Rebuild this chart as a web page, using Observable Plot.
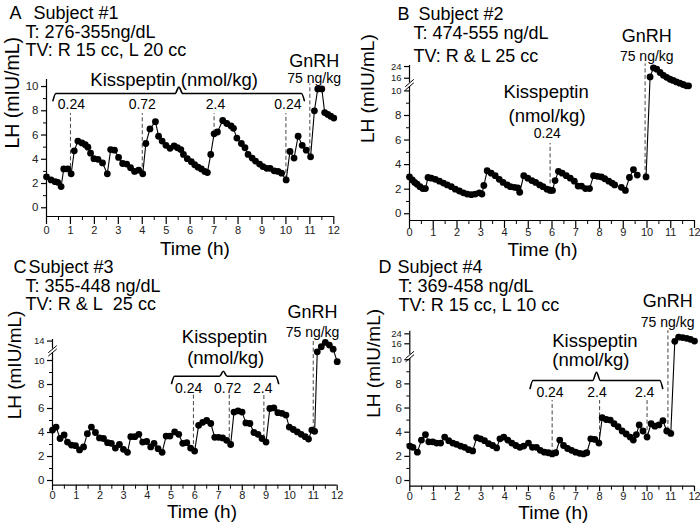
<!DOCTYPE html>
<html><head><meta charset="utf-8">
<script src="https://cdn.jsdelivr.net/npm/d3@7"></script>
<script src="https://cdn.jsdelivr.net/npm/@observablehq/plot@0.6"></script>
<style>
body{margin:0;background:#fff;}
#fig{position:relative;width:700px;height:528px;background:#fff;overflow:hidden;}
.panel{position:absolute;width:350px;height:264px;}
.panel svg{overflow:visible;position:absolute;left:0;top:0;}
</style></head><body><div id="fig"></div>
<script>
// ---------------- data (hours, LH mIU/mL) ----------------
const timeA = [0,0.19,0.36,0.47,0.61,0.72,0.89,1.03,1.16,1.31,1.48,1.62,1.73,1.84,1.98,2.15,2.34,2.54,2.68,2.84,3.01,3.18,3.35,3.51,3.68,3.85,4.02,4.15,4.32,4.55,4.68,4.83,4.99,5.16,5.33,5.47,5.61,5.72,5.88,6.05,6.19,6.33,6.47,6.61,6.72,6.86,7.0,7.14,7.36,7.53,7.71,7.81,7.95,8.14,8.29,8.42,8.59,8.73,8.9,9.04,9.2,9.34,9.51,9.67,9.82,10.01,10.17,10.34,10.51,10.68,10.85,11.03,11.19,11.33,11.5,11.62,11.75,11.87,12.0];
const lhA = [2.55,2.3,2.15,2.1,1.75,3.2,3.2,2.8,4.7,5.5,5.35,5.2,5.0,4.5,4.05,4.0,3.7,2.8,4.8,4.75,4.15,3.65,3.6,3.3,3.0,3.1,2.8,5.3,6.5,7.1,5.9,5.5,5.15,4.9,5.1,4.95,4.8,4.4,4.05,3.8,3.55,3.35,3.2,3.0,2.9,4.4,6.1,6.25,7.2,6.95,6.75,6.55,5.75,5.3,4.95,4.4,4.1,3.85,3.6,3.4,3.25,3.25,3.05,3.0,2.85,2.3,4.65,4.1,5.9,5.15,4.75,4.2,8.0,9.8,9.8,7.85,7.7,7.55,7.4];

const timeB = [0,0.12,0.22,0.32,0.44,0.56,0.67,0.78,0.92,1.09,1.26,1.43,1.59,1.76,1.93,2.1,2.27,2.43,2.6,2.77,2.94,3.05,3.13,3.27,3.44,3.61,3.78,3.94,4.11,4.25,4.42,4.56,4.64,4.81,4.98,5.15,5.31,5.48,5.62,5.79,5.92,6.02,6.13,6.27,6.43,6.6,6.77,6.94,7.1,7.24,7.41,7.58,7.75,7.92,8.08,8.22,8.39,8.53,8.64,8.78,8.92,9.09,9.26,9.43,9.59,9.78,9.96,10.13,10.27,10.41,10.55,10.69,10.83,10.97,11.1,11.24,11.38,11.52,11.66,11.75];
const lhB = [3.0,2.75,2.55,2.4,2.2,2.05,2.05,2.95,2.9,2.8,2.65,2.5,2.35,2.2,2.0,1.85,1.7,1.6,1.55,1.6,1.7,1.6,2.3,3.5,3.3,3.1,2.8,2.55,2.35,2.2,2.15,2.1,1.75,3.1,2.9,2.7,2.55,2.35,2.2,2.0,1.9,1.9,2.7,3.45,3.3,3.1,2.9,2.65,2.25,2.25,2.05,2.05,3.1,3.05,3.0,2.85,2.65,2.5,2.35,null,2.15,1.9,2.95,3.6,3.15,null,3.0,16.9,23.1,22.2,19.9,18.0,16.6,15.3,14.5,13.5,12.6,11.7,10.8,10.8];

const timeC = [0,0.15,0.32,0.49,0.63,0.8,0.97,1.14,1.31,1.47,1.64,1.81,1.98,2.15,2.32,2.48,2.65,2.82,2.99,3.16,3.3,3.47,3.64,3.8,3.97,4.14,4.28,4.45,4.62,4.79,4.95,5.15,5.32,5.49,5.66,5.82,5.99,6.16,6.33,6.5,6.67,6.84,7.0,7.17,7.34,7.51,7.65,7.82,7.99,8.15,8.32,8.49,8.66,8.83,9.0,9.16,9.33,9.5,9.67,9.84,9.98,10.15,10.32,10.48,10.65,10.79,10.93,11.05,11.16,11.33,11.5,11.67,11.83,12.0];
const lhC = [4.2,4.45,3.5,3.8,3.2,2.95,2.9,2.55,2.8,3.9,4.45,4.0,3.55,3.5,3.15,3.1,2.7,3.0,2.6,2.35,3.65,3.65,3.85,3.2,3.25,2.8,3.1,2.65,2.35,3.7,3.7,4.05,3.85,3.1,3.15,2.7,2.45,4.6,4.85,5.0,4.75,3.6,3.6,3.55,3.35,3.0,5.7,5.8,5.7,4.8,4.75,4.0,3.85,3.5,3.2,6.0,6.05,5.65,5.6,5.45,4.45,4.25,4.05,3.85,3.65,3.45,4.2,4.1,10.8,12.3,13.6,12.8,11.6,9.9];

const timeD = [0,0.13,0.32,0.49,0.66,0.8,0.97,1.13,1.3,1.47,1.64,1.81,1.97,2.14,2.31,2.48,2.65,2.82,2.98,3.15,3.32,3.49,3.66,3.8,3.96,4.13,4.3,4.47,4.64,4.8,5.0,5.17,5.34,5.5,5.67,5.84,6.0,6.15,6.32,6.48,6.65,6.82,6.99,7.16,7.32,7.46,7.63,7.8,7.97,8.11,8.28,8.45,8.61,8.78,8.95,9.12,9.29,9.42,9.55,9.67,9.83,10.0,10.17,10.33,10.5,10.67,10.83,11.0,11.17,11.33,11.5,11.67,11.83,12.0];
const lhD = [2.85,2.75,2.35,3.35,3.8,3.2,3.2,3.1,3.1,3.6,3.3,3.1,3.0,2.85,2.75,2.55,2.45,3.55,3.45,3.3,3.05,2.9,2.7,3.45,3.6,3.35,3.1,2.9,2.75,2.85,3.1,2.75,2.75,2.5,2.35,2.3,2.2,2.3,3.35,2.9,2.65,2.5,2.35,2.25,2.2,2.3,3.45,3.4,3.1,5.2,5.05,5.0,4.7,4.45,4.1,3.85,3.6,3.35,3.8,4.6,4.1,3.6,4.7,4.5,4.6,4.95,4.1,3.9,18.0,21.3,21.0,20.4,19.6,18.2];

// doses (kisspeptin nmol/kg) and GnRH time
const doseTimesA = [1, 4, 7, 10];        const doseLabelsA = ["0.24", "0.72", "2.4", "0.24"];
const doseTimesB = [5.92];               const doseLabelsB = ["0.24"];
const doseTimesC = [5.94, 7.45, 8.91];   const doseLabelsC = ["0.24", "0.72", "2.4"];
const doseTimesD = [6, 8, 10];           const doseLabelsD = ["0.24", "2.4", "2.4"];
const gnrhTimes = {A: 11.0, B: 9.92, C: 10.99, D: 10.88};

// ticks
const xTicks = [0,1,2,3,4,5,6,7,8,9,10,11,12];
const xMinor = [0.5,1.5,2.5,3.5,4.5,5.5,6.5,7.5,8.5,9.5,10.5,11.5];
const yTicksLow = [0,2,4,6,8];
const yMinor = [1,3,5,7,9];
const yTicksHighA = [10];
const yTicksHighB = [10,16,24];
const yTicksHighC = [10,14];
const yTicksHighD = [10,16,24];

// headers
const headers = {
  A: ["A", "Subject #1", "T: 276-355ng/dL", "TV: R 15 cc, L 20 cc"],
  B: ["B", "Subject #2", "T: 474-555 ng/dL", "TV: R & L 25 cc"],
  C: ["C", "Subject #3", "T: 355-448 ng/dL", "TV: R & L\u00a0 25 cc"],
  D: ["D", "Subject #4", "T: 369-458 ng/dL", "TV: R 15 cc, L 10 cc"]
};

// --------------- layout / styling ---------------
const FONT = "'Liberation Sans', Arial, sans-serif";
const NARROW = "'Liberation Sans Narrow', 'Liberation Sans', Arial, sans-serif";

const panels = [
  {key: "A", left: 0, top: 0, ml: 46, mr: 16.7, mt: 79, mb: 48, ylo: -0.72, yhi: 10.58,
   f: v => v, time: timeA, lh: lhA, high: yTicksHighA, highSmall: false, brk: null, tickSize: 8, tickPad: 2,
   doses: doseTimesA, doseLabels: doseLabelsA, doseLabelX: [1.04, 4.0, 7.06, 10.08], doseLabelY: 8.13, doseTop: 7.77,
   kiss: [["Kisspeptin (nmol/kg)", 5.33, 10.08]],
   brace: {x0: 0.27, x1: 10.77, xc: 5.53, y: 9.42, yEnd: 8.84, yCusp: 9.95},
   gnrhTop: 10.2, gnrhX: 11.18, gnrhY1: 11.6, gnrhY2: 10.3,
   hdr: [[9, 18.5], [33, 18.5], [25, 37], [25, 55]],
   ylab: [-33.5, 0.5, 19.5], tlab: [6.2, 38]},
  {key: "B", left: 350, top: 0, ml: 59, mr: 6, mt: 65, mb: 44, ylo: -0.55, yhi: 12.07,
   f: v => v <= 10 ? v : 10.32 + (v - 10) * 0.119, time: timeB, lh: lhB, high: yTicksHighB, highSmall: true, brk: 10.5, tickSize: 8, tickPad: 0,
   doses: doseTimesB, doseLabels: doseLabelsB, doseLabelX: [5.8], doseLabelY: 6.13, doseTop: 5.72,
   kiss: [["Kisspeptin", 5.75, 9.46], ["(nmol/kg)", 5.79, 7.51]],
   brace: null,
   gnrhTop: 12.2, gnrhX: 9.99, gnrhY1: 13.95, gnrhY2: 12.4,
   hdr: [[47, 19], [68, 19], [63, 38.5], [63, 61.5]],
   ylab: [-41.5, 0, 19], tlab: [5.6, 35]},
  {key: "C", left: 0, top: 264, ml: 52, mr: 13.3, mt: 75, mb: 43.3, ylo: -0.39, yhi: 11.75,
   f: v => v <= 10 ? v : 10.5 + (v - 10) * 0.28, time: timeC, lh: lhC, high: yTicksHighC, highSmall: true, brk: 10.8, tickSize: 5.5, tickPad: 0,
   doses: doseTimesC, doseLabels: doseLabelsC, doseLabelX: [5.74, 7.38, 8.86], doseLabelY: 7.33, doseTop: 7.12,
   kiss: [["Kisspeptin", 7.25, 11.5], ["(nmol/kg)", 7.3, 9.67]],
   brace: {x0: 5.02, x1: 9.53, xc: 7.2, y: 8.69, yEnd: 8.08, yCusp: 9.1},
   gnrhTop: 11.67, gnrhX: 10.96, gnrhY1: 13.5, gnrhY2: 11.95,
   hdr: [[13, 8], [28, 8], [25, 27], [25, 45.5]],
   ylab: [-37.5, 7, 19], tlab: [6.3, 33]},
  {key: "D", left: 350, top: 264, ml: 59.3, mr: 6, mt: 66.7, mb: 42.3, ylo: -0.47, yhi: 12.36,
   f: v => v <= 10 ? v : 10.7 + (v - 10) * 0.103, time: timeD, lh: lhD, high: yTicksHighD, highSmall: true, brk: 10.26, tickSize: 5.5, tickPad: 0,
   doses: doseTimesD, doseLabels: doseLabelsD, doseLabelX: [5.91, 7.89, 9.9], doseLabelY: 6.95, doseTop: 6.62,
   kiss: [["Kisspeptin", 7.8, 11.09], ["(nmol/kg)", 7.63, 9.44]],
   brace: {x0: 5.07, x1: 10.66, xc: 7.87, y: 8.28, yEnd: 7.62, yCusp: 8.96},
   gnrhTop: 12.4, gnrhX: 10.87, gnrhY1: 14.4, gnrhY2: 12.7,
   hdr: [[28, 8], [47, 8], [48, 27], [48, 46.5]],
   ylab: [-36, 9, 19], tlab: [6.05, 33]}
];

const fig = document.getElementById("fig");

for (const p of panels) {
  const f = p.f;
  const rows = p.time.map((t, i) => ({t, v: p.lh[i], fy: p.lh[i] == null ? null : f(p.lh[i])}));
  const valid = rows.filter(r => r.v != null);
  const near = t => valid.reduce((a, b) => Math.abs(b.t - t) < Math.abs(a.t - t) ? b : a);
  const doseRows = p.doses.map((t, i) => ({t, label: p.doseLabels[i], lx: p.doseLabelX[i], y1: near(t).fy}));
  const gT = gnrhTimes[p.key];
  const gnrhRow = [{t: gT, y1: near(gT).fy}];

  const lowMap = new Map(yTicksLow.map(v => [f(v).toFixed(3), String(v)]));
  const highMap = new Map(p.high.map(v => [f(v).toFixed(3), String(v)]));

  // spine segments (with gap at axis break)
  const gap = 0.16;
  const spine = p.brk == null ? [[p.ylo, p.yhi]] : [[p.ylo, p.brk - gap], [p.brk + gap, p.yhi]];
  const slashes = p.brk == null ? [] : [-0.14, 0.14].map(o => ({o}));

  const marks = [
    Plot.ruleX(spine, {x: () => 0, y1: d => d[0], y2: d => d[1], stroke: "black", strokeWidth: 1.2}),
    Plot.ruleY([p.ylo], {stroke: "black", strokeWidth: 1.2}),
    Plot.link(slashes, {x1: -0.18, x2: 0.18, y1: d => p.brk + d.o - 0.3, y2: d => p.brk + d.o + 0.3, stroke: "black", strokeWidth: 1}),
    Plot.axisX({ticks: xTicks, tickSize: p.tickSize, tickPadding: p.tickPad, fontSize: 11, fontFamily: NARROW, fill: "#222", stroke: "black", strokeWidth: 1.2}),
    Plot.axisX({ticks: xMinor, tickSize: 4, tickFormat: () => "", stroke: "black", strokeWidth: 1}),
    Plot.axisY({ticks: yTicksLow.map(f), tickFormat: d => lowMap.get(d.toFixed(3)), tickSize: 5, tickPadding: 3, fontSize: 11.5, fontFamily: NARROW, fill: "#222", stroke: "black", strokeWidth: 1.2}),
    Plot.axisY({ticks: p.high.map(f), tickFormat: d => highMap.get(d.toFixed(3)), tickSize: 5, tickPadding: 3, fontSize: p.highSmall ? 9.5 : 11.5, fontFamily: NARROW, fill: "#222", stroke: "black", strokeWidth: 1.2}),
    Plot.axisY({ticks: yMinor.map(f), tickFormat: () => "", tickSize: 3, stroke: "black", strokeWidth: 1}),
    // dashed dose markers
    Plot.ruleX(doseRows, {x: "t", y1: "y1", y2: p.doseTop, stroke: "#444", strokeWidth: 1, strokeDasharray: "4,2.5"}),
    Plot.ruleX(gnrhRow, {x: "t", y1: "y1", y2: p.gnrhTop, stroke: "#444", strokeWidth: 1, strokeDasharray: "4,2.5"}),
    // series
    Plot.line(rows, {x: "t", y: "fy", stroke: "black", strokeWidth: 1.1}),
    Plot.dot(valid, {x: "t", y: "fy", r: 3.4, fill: "black", stroke: "none"}),
    // annotations
    Plot.text(doseRows, {x: "lx", y: p.doseLabelY, text: "label", fontSize: 14, lineAnchor: "bottom", fill: "black"}),
    Plot.text(p.kiss, {x: d => d[1], y: d => d[2], text: d => d[0], fontSize: 18.5, lineAnchor: "bottom", fill: "black"}),
    Plot.text(["GnRH"], {x: p.gnrhX, y: p.gnrhY1, text: d => d, fontSize: 18, lineAnchor: "bottom", fill: "black"}),
    Plot.text(["75 ng/kg"], {x: p.gnrhX, y: p.gnrhY2, text: d => d, fontSize: 14, lineAnchor: "bottom", fill: "black"}),
    // axis titles
    Plot.text(["LH (mIU/mL)"], {frameAnchor: "left", text: d => d, rotate: -90, dx: p.ylab[0], dy: p.ylab[1], fontSize: p.ylab[2], lineAnchor: "middle", fill: "black"}),
    Plot.text(["Time (h)"], {x: p.tlab[0], frameAnchor: "bottom", dy: p.tlab[1], text: d => d, fontSize: 19, lineAnchor: "bottom", fill: "black"}),
    // headers
    ...headers[p.key].map((s, i) => Plot.text([s], {frameAnchor: "top-left", dx: p.hdr[i][0] - p.ml, dy: p.hdr[i][1] - p.mt, text: d => d, textAnchor: "start", lineAnchor: "bottom", fontSize: 18, fill: "black"}))
  ];
  if (p.brace) {
    const b = p.brace;
    const pts = [[b.x0, b.yEnd], [b.x0 + 0.12, b.y], [b.xc - 0.16, b.y], [b.xc, b.yCusp], [b.xc + 0.16, b.y], [b.x1 - 0.12, b.y], [b.x1, b.yEnd]];
    marks.push(Plot.line(pts, {x: d => d[0], y: d => d[1], curve: "monotone-x", stroke: "black", strokeWidth: 1.6}));
  }

  const svg = Plot.plot({
    width: 350, height: 264,
    marginLeft: p.ml, marginRight: p.mr, marginTop: p.mt, marginBottom: p.mb,
    x: {domain: [0, 12], axis: null},
    y: {domain: [p.ylo, p.yhi], axis: null},
    style: {fontFamily: FONT, background: "transparent", overflow: "visible", color: "black"},
    marks
  });
  const div = document.createElement("div");
  div.className = "panel";
  div.style.left = p.left + "px";
  div.style.top = p.top + "px";
  div.appendChild(svg);
  fig.appendChild(div);
}
</script>
</body></html>
